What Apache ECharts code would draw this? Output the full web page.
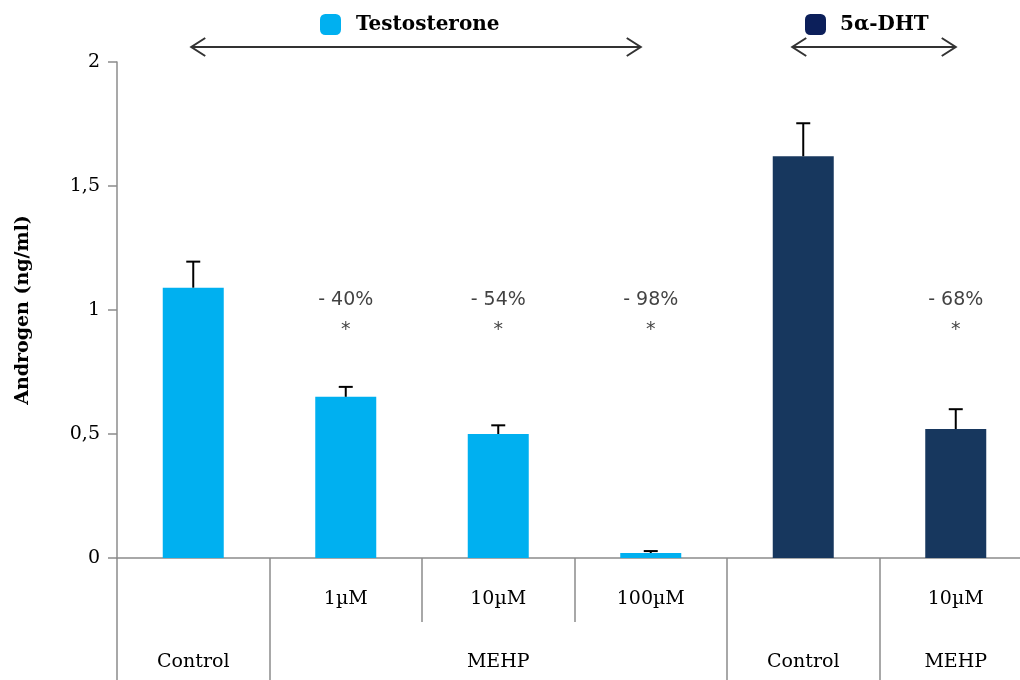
<!DOCTYPE html>
<html>
<head>
<meta charset="utf-8">
<script src="https://cdn.jsdelivr.net/npm/echarts@6/dist/echarts.min.js"></script>
<style>
  html, body { margin: 0; padding: 0; background: #fff; overflow: hidden; }
  #chart-container { width: 1040px; height: 680px; }
</style>
</head>
<body>
<div id="chart-container"></div>
<script>
var dom = document.getElementById('chart-container');
var myChart = echarts.init(dom, null, { renderer: 'canvas' });

// data
var doseLabels = ['', '1\u00b5M', '10\u00b5M', '100\u00b5M', '', '10\u00b5M'];
var groupLabels = ['Control', '', 'MEHP', '', 'Control', 'MEHP'];
var testoValues = [1.09, 0.65, 0.50, 0.02, '-', '-'];
var dhtValues = ['-', '-', '-', '-', 1.62, 0.52];
var errTop = [1.195, 0.69, 0.535, 0.028, 1.753, 0.60];
var changeLabels = ['', '- 40%', '- 54%', '- 98%', '', '- 68%'];
var labelLevel = 0.98;
var yTicks = ['0', '0,5', '1', '1,5', '2'];

var serif = '"DejaVu Serif", "Liberation Serif", serif';
var axisGrey = '#8c8c8c';

var means = testoValues.map(function (v, i) { return v === '-' ? dhtValues[i] : v; });
var errData = means.map(function (v, i) { return [i, v, errTop[i]]; });
var annData = changeLabels.map(function (t, i) { return t ? [i, labelLevel, t] : [i, '-', '']; });

var option = {
    animation: false,
    legend: [
        {
            left: 320, top: 14, padding: 0,
            itemWidth: 21, itemHeight: 21, icon: 'roundRect',
            textStyle: { fontFamily: serif, fontWeight: 'bold', fontSize: 20, color: '#000', padding: [0, 0, 0, 10] },
            data: [{ name: 'Testosterone', itemStyle: { color: '#00b0f0' } }]
        },
        {
            left: 805, top: 14, padding: 0,
            itemWidth: 21, itemHeight: 21, icon: 'roundRect',
            textStyle: { fontFamily: serif, fontWeight: 'bold', fontSize: 20, color: '#000', padding: [0, 0, 0, 9] },
            data: [{ name: '5\u03b1-DHT', itemStyle: { color: '#0c1f5a' } }]
        }
    ],
    grid: { left: 117, top: 62, width: 915, height: 496 },
    xAxis: [
        {
            type: 'category',
            data: doseLabels,
            axisLine: { show: true, lineStyle: { color: axisGrey, width: 1.5 } },
            axisTick: { show: true, length: 64, interval: 0, lineStyle: { color: axisGrey, width: 1.5 } },
            axisLabel: { interval: 0, margin: 32, fontFamily: serif, fontSize: 19, color: '#000' }
        },
        {
            type: 'category',
            data: groupLabels,
            position: 'bottom',
            axisLine: { show: false },
            axisTick: {
                show: true,
                length: 122,
                interval: function (i) { return i === 0 || i === 1 || i === 4 || i === 5; },
                lineStyle: { color: axisGrey, width: 1.5 }
            },
            axisLabel: { interval: 0, margin: 95, fontFamily: serif, fontSize: 19, color: '#000' }
        }
    ],
    yAxis: {
        type: 'value',
        min: 0, max: 2, interval: 0.5,
        name: 'Androgen (ng/ml)',
        nameLocation: 'middle',
        nameGap: 84,
        nameTextStyle: { fontFamily: serif, fontWeight: 'bold', fontSize: 19, color: '#000' },
        axisLine: { show: true, lineStyle: { color: axisGrey, width: 1.5 } },
        axisTick: { show: true, length: 9, lineStyle: { color: axisGrey, width: 1.5 } },
        splitLine: { show: false },
        axisLabel: {
            margin: 17, fontFamily: serif, fontSize: 19, color: '#000',
            formatter: function (v) { return yTicks[Math.round(v / 0.5)]; }
        }
    },
    series: [
        {
            name: 'Testosterone', type: 'bar', data: testoValues,
            barWidth: 61, barGap: '-100%',
            itemStyle: { color: '#00b0f0' }
        },
        {
            name: '5\u03b1-DHT', type: 'bar', data: dhtValues,
            barWidth: 61, barGap: '-100%',
            itemStyle: { color: '#17375e' }
        },
        {
            type: 'custom', data: errData, z: 5,
            renderItem: function (params, api) {
                var base = api.coord([api.value(0), api.value(1)]);
                var top = api.coord([api.value(0), api.value(2)]);
                var w = 7;
                return {
                    type: 'group',
                    children: [
                        { type: 'line', shape: { x1: base[0], y1: base[1], x2: top[0], y2: top[1] }, style: { stroke: '#000', lineWidth: 2 } },
                        { type: 'line', shape: { x1: top[0] - w, y1: top[1], x2: top[0] + w, y2: top[1] }, style: { stroke: '#000', lineWidth: 2 } }
                    ]
                };
            }
        },
        {
            type: 'scatter', data: annData, symbolSize: 0,
            label: {
                show: true, position: 'inside',
                formatter: function (p) { return p.value[2] + '\n*'; },
                fontFamily: '"DejaVu Sans", sans-serif', fontSize: 19, lineHeight: 30, color: '#111'
            }
        }
    ]
};

myChart.setOption(option);

// double-headed arrows above the two groups
function arrow(i0, i1, dx0, dx1) {
    var y = 47;
    var a = myChart.convertToPixel({ xAxisIndex: 0 }, i0) + dx0;
    var b = myChart.convertToPixel({ xAxisIndex: 0 }, i1) + dx1;
    var s = { stroke: '#333', lineWidth: 2 };
    return [
        { type: 'line', shape: { x1: a, y1: y, x2: b, y2: y }, style: s },
        { type: 'polyline', shape: { points: [[a + 14, y - 9], [a, y], [a + 14, y + 9]] }, style: { stroke: '#333', lineWidth: 2, fill: null } },
        { type: 'polyline', shape: { points: [[b - 14, y - 9], [b, y], [b - 14, y + 9]] }, style: { stroke: '#333', lineWidth: 2, fill: null } }
    ];
}
myChart.setOption({ graphic: arrow(0, 3, -2, -10).concat(arrow(4, 5, -11, 0)) });

window.addEventListener('resize', myChart.resize);
</script>
</body>
</html>
